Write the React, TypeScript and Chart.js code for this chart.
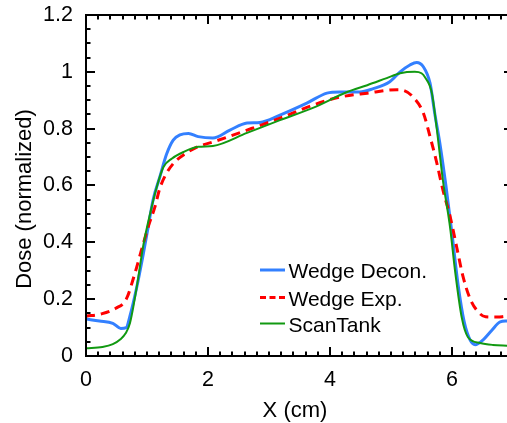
import React, { useEffect, useRef } from "react";
import { Chart, registerables } from "chart.js";

Chart.register(...registerables);

const FONT = "'Liberation Sans', Arial, Helvetica, sans-serif";

// Wedge Decon. (blue)
const deconX = [0, 0.22, 0.44, 0.57, 0.66, 0.72, 0.83, 0.94, 1.02, 1.1, 1.21, 1.32, 1.43, 1.54, 1.68, 1.84, 2.08, 2.36, 2.64, 2.85, 3.18, 3.62, 3.95, 4.16, 4.49, 4.7, 4.98, 5.15, 5.31, 5.42, 5.53, 5.64, 5.72, 5.8, 5.9, 6.0, 6.1, 6.2, 6.3, 6.38, 6.51, 6.65, 6.79, 6.9, 7.0];
const deconY = [0.13, 0.123, 0.115, 0.097, 0.1, 0.14, 0.24, 0.36, 0.455, 0.55, 0.63, 0.71, 0.76, 0.778, 0.783, 0.772, 0.767, 0.795, 0.82, 0.822, 0.848, 0.89, 0.925, 0.929, 0.929, 0.94, 0.965, 1.0, 1.024, 1.033, 1.018, 0.96, 0.85, 0.75, 0.6, 0.43, 0.25, 0.12, 0.055, 0.04, 0.057, 0.09, 0.12, 0.123, 0.124];

// Wedge Exp. (red dashed)
const expX = [0, 0.25, 0.49, 0.66, 0.8, 0.91, 1.02, 1.13, 1.21, 1.32, 1.46, 1.62, 1.84, 2.08, 2.64, 3.18, 3.72, 4.16, 4.61, 5.1, 5.2, 5.36, 5.53, 5.64, 5.75, 5.85, 5.97, 6.08, 6.18, 6.3, 6.43, 6.55, 6.75, 6.9, 7.0];
const expY = [0.14, 0.148, 0.168, 0.2, 0.29, 0.373, 0.455, 0.525, 0.59, 0.643, 0.684, 0.711, 0.737, 0.753, 0.795, 0.837, 0.883, 0.911, 0.925, 0.937, 0.935, 0.912, 0.855, 0.772, 0.68, 0.585, 0.49, 0.38, 0.28, 0.2, 0.155, 0.138, 0.137, 0.14, 0.14];

// ScanTank (green)
const tankX = [0, 0.27, 0.44, 0.57, 0.65, 0.72, 0.83, 0.94, 1.05, 1.16, 1.27, 1.41, 1.6, 1.84, 2.08, 2.64, 3.18, 3.72, 4.28, 4.61, 4.93, 5.15, 5.39, 5.5, 5.56, 5.67, 5.75, 5.85, 5.97, 6.05, 6.16, 6.26, 6.46, 6.67, 6.9, 7.0];
const tankY = [0.027, 0.032, 0.042, 0.06, 0.08, 0.115, 0.24, 0.39, 0.5, 0.595, 0.665, 0.695, 0.718, 0.736, 0.739, 0.785, 0.83, 0.873, 0.929, 0.953, 0.978, 0.995, 1.0, 0.995, 0.98, 0.925, 0.8, 0.62, 0.45, 0.3, 0.135, 0.067, 0.046, 0.039, 0.036, 0.035];

const seriesNames = ["Wedge Decon.", "Wedge Exp.", "ScanTank"];
const seriesColors = ["#3380ff", "#ff0000", "#119911"];
const xTickValues = [0, 2, 4, 6];
const yTickValues = [0, 0.2, 0.4, 0.6, 0.8, 1, 1.2];
const yTickLabels = ["0", "0.2", "0.4", "0.6", "0.8", "1", "1.2"];
const xTitle = "X (cm)";
const yTitle = "Dose (normalized)";
const X_MIN = 0;
const X_MAX = 7;
const Y_MIN = 0;
const Y_MAX = 1.2;
const X_MINOR = 0.2;
const Y_MINOR = 0.05;

const toPoints = (xs: number[], ys: number[]) => xs.map((x, i) => ({ x, y: ys[i] }));

const noPad = (s: any) => {
  s.paddingTop = 0;
  s.paddingBottom = 0;
  s.paddingLeft = 0;
  s.paddingRight = 0;
};

const framePlugin = {
  id: "frameTicks",
  afterDraw(chart: any) {
    const { ctx, chartArea } = chart;
    const { left, right, top, bottom } = chartArea;
    const xs = chart.scales.x;
    const ys = chart.scales.y;
    ctx.save();
    ctx.strokeStyle = "#000";
    ctx.lineWidth = 2;
    ctx.strokeRect(left, top, right - left, bottom - top);
    const line = (x1: number, y1: number, x2: number, y2: number) => {
      ctx.beginPath();
      ctx.moveTo(x1, y1);
      ctx.lineTo(x2, y2);
      ctx.stroke();
    };
    const nx = Math.round((X_MAX - X_MIN) / X_MINOR);
    for (let i = 0; i <= nx; i++) {
      const v = X_MIN + i * X_MINOR;
      const px = Math.round(xs.getPixelForValue(v));
      const major = xTickValues.some((t) => Math.abs(t - v) < 1e-6);
      const len = major ? 9 : 4.5;
      line(px, bottom, px, bottom - len);
      line(px, top, px, top + len);
    }
    const ny = Math.round((Y_MAX - Y_MIN) / Y_MINOR);
    for (let i = 0; i <= ny; i++) {
      const v = Y_MIN + i * Y_MINOR;
      const py = Math.round(ys.getPixelForValue(v));
      const major = yTickValues.some((t) => Math.abs(t - v) < 1e-6);
      const len = major ? 9 : 4.5;
      line(left, py, left + len, py);
      line(right, py, right - len, py);
    }

    // legend
    ctx.font = `21px ${FONT}`;
    ctx.fillStyle = "#000";
    ctx.textAlign = "left";
    ctx.textBaseline = "alphabetic";
    const rows = [270, 297.5, 323.5];
    const widths = [3, 3, 2];
    seriesNames.forEach((name, i) => {
      ctx.strokeStyle = seriesColors[i];
      ctx.lineWidth = widths[i];
      ctx.setLineDash(i === 1 ? [6, 3.5] : []);
      line(260, rows[i], 285, rows[i]);
      ctx.setLineDash([]);
      ctx.fillText(name, 288.5, rows[i] + 8);
    });

    // axis titles
    ctx.font = `22px ${FONT}`;
    ctx.textAlign = "center";
    ctx.fillText(xTitle, 295, 417);
    ctx.save();
    ctx.translate(31, 199);
    ctx.rotate(-Math.PI / 2);
    ctx.fillText(yTitle, 0, 0);
    ctx.restore();
    ctx.restore();
  },
};

export default function App() {
  const ref = useRef<HTMLCanvasElement | null>(null);
  useEffect(() => {
    if (!ref.current) return;
    const chart = new Chart(ref.current, {
      type: "line",
      data: {
        datasets: [
          {
            label: seriesNames[0],
            data: toPoints(deconX, deconY),
            borderColor: seriesColors[0],
            borderWidth: 3,
            pointRadius: 0,
            cubicInterpolationMode: "monotone",
            order: 3,
          },
          {
            label: seriesNames[1],
            data: toPoints(expX, expY),
            borderColor: seriesColors[1],
            borderWidth: 3,
            borderDash: [9, 6],
            pointRadius: 0,
            cubicInterpolationMode: "monotone",
            order: 2,
          },
          {
            label: seriesNames[2],
            data: toPoints(tankX, tankY),
            borderColor: seriesColors[2],
            borderWidth: 2,
            pointRadius: 0,
            cubicInterpolationMode: "monotone",
            order: 1,
          },
        ],
      },
      options: {
        responsive: false,
        animation: false,
        devicePixelRatio: 1,
        layout: { padding: { top: 15, left: 0, right: 7, bottom: 0 } },
        plugins: { legend: { display: false }, tooltip: { enabled: false } },
        scales: {
          x: {
            type: "linear",
            min: X_MIN,
            max: X_MAX,
            afterFit: (s: any) => {
              s.height = 67;
              noPad(s);
            },
            afterBuildTicks: (s: any) => {
              s.ticks = xTickValues.map((v) => ({ value: v }));
            },
            ticks: {
              padding: 11,
              maxRotation: 0,
              autoSkip: false,
              color: "#000",
              font: { family: FONT, size: 21.5 },
              callback: (v: any) => String(v),
            },
            grid: { display: false, drawTicks: false },
            border: { display: false },
          },
          y: {
            type: "linear",
            min: Y_MIN,
            max: Y_MAX,
            afterFit: (s: any) => {
              s.width = 86;
              noPad(s);
            },
            afterBuildTicks: (s: any) => {
              s.ticks = yTickValues.map((v) => ({ value: v }));
            },
            ticks: {
              padding: 13,
              autoSkip: false,
              color: "#000",
              font: { family: FONT, size: 21.5 },
              callback: (v: any) => {
                const idx = yTickValues.findIndex((t) => Math.abs(t - v) < 1e-6);
                return idx >= 0 ? yTickLabels[idx] : "";
              },
            },
            grid: { display: false, drawTicks: false },
            border: { display: false },
          },
        },
      },
      plugins: [framePlugin],
    } as any);
    return () => chart.destroy();
  }, []);
  return (
    <div style={{ position: "fixed", left: 0, top: 0, width: 507, height: 423, overflow: "hidden", background: "#fff" }}>
      <canvas ref={ref} width={520} height={423} style={{ display: "block", width: 520, height: 423 }} />
    </div>
  );
}
